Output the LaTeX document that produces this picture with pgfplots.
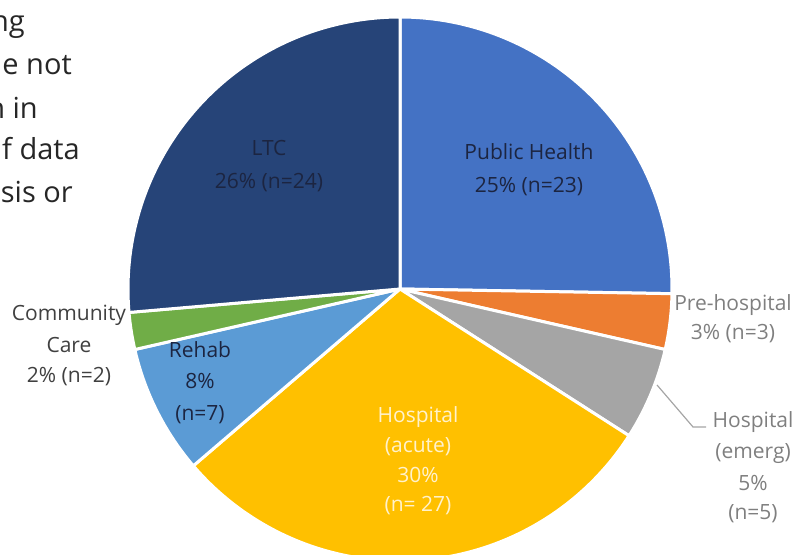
\documentclass[border=0pt]{standalone}
\usepackage{fontspec}
\setmainfont{Open Sans}
\usepackage{pgfplots}
\pgfplotsset{compat=1.18}
\definecolor{cPH}{HTML}{4472C4}
\definecolor{cPre}{HTML}{ED7D31}
\definecolor{cEm}{HTML}{A5A5A5}
\definecolor{cAc}{HTML}{FFC000}
\definecolor{cRe}{HTML}{5B9BD5}
\definecolor{cCo}{HTML}{70AD47}
\definecolor{cLT}{HTML}{264478}
\definecolor{txtIn}{HTML}{1C2541}
\definecolor{txtOut}{HTML}{7F7F7F}
\definecolor{txtCo}{HTML}{404040}
\definecolor{txtAc}{HTML}{FFF2CC}
\definecolor{txtBody}{HTML}{262626}
\newcommand\labfont{\fontsize{21bp}{31bp}\selectfont}
\newcommand\lab[4]{\node[anchor=base, text=#4, font=\labfont, inner sep=0pt] at (axis cs:#1,#2) {#3};}
% data: counts per category (clockwise from 12 o'clock)
\def\nPH{23}\def\nPre{3}\def\nEm{5}\def\nAc{27}\def\nRe{7}\def\nCo{2}\def\nLT{24}
\begin{document}
\begin{tikzpicture}
\path[use as bounding box] (0,0) rectangle (798bp,555bp);
\pgfmathsetmacro\tot{\nPH+\nPre+\nEm+\nAc+\nRe+\nCo+\nLT}
\pgfmathsetmacro\aA{90}
\pgfmathsetmacro\aB{\aA-\nPH*360/\tot}
\pgfmathsetmacro\aC{\aB-\nPre*360/\tot}
\pgfmathsetmacro\aD{\aC-\nEm*360/\tot}
\pgfmathsetmacro\aE{\aD-\nAc*360/\tot}
\pgfmathsetmacro\aF{\aE-\nRe*360/\tot}
\pgfmathsetmacro\aG{\aF-\nCo*360/\tot}
\pgfmathsetmacro\aH{\aG-\nLT*360/\tot}
\begin{axis}[
  at={(0,0)}, anchor=south west,
  width=798bp, height=555bp, scale only axis,
  xmin=0, xmax=798, ymin=0, ymax=555, y dir=reverse,
  hide axis, clip=true,
]
\pgfplotsset{wedge/.style={draw=white, line width=3bp, samples=120, variable=\t, line join=round}}
\addplot[wedge, fill=cPH, domain=\aB:\aA] ({400+272*cos(\t)}, {289-272*sin(\t)}) -- (axis cs:400,289) -- cycle;
\addplot[wedge, fill=cPre, domain=\aC:\aB] ({400+272*cos(\t)}, {289-272*sin(\t)}) -- (axis cs:400,289) -- cycle;
\addplot[wedge, fill=cEm, domain=\aD:\aC] ({400+272*cos(\t)}, {289-272*sin(\t)}) -- (axis cs:400,289) -- cycle;
\addplot[wedge, fill=cAc, domain=\aE:\aD] ({400+272*cos(\t)}, {289-272*sin(\t)}) -- (axis cs:400,289) -- cycle;
\addplot[wedge, fill=cRe, domain=\aF:\aE] ({400+272*cos(\t)}, {289-272*sin(\t)}) -- (axis cs:400,289) -- cycle;
\addplot[wedge, fill=cCo, domain=\aG:\aF] ({400+272*cos(\t)}, {289-272*sin(\t)}) -- (axis cs:400,289) -- cycle;
\addplot[wedge, fill=cLT, domain=\aH:\aG] ({400+272*cos(\t)}, {289-272*sin(\t)}) -- (axis cs:400,289) -- cycle;
% leader line for Hospital (emerg)
\addplot[color=cEm, line width=1.2bp] coordinates {(657,385) (693,427) (706,427)};
% labels
\lab{269}{155}{LTC}{txtIn}
\lab{269}{188}{26\% (n=24)}{txtIn}
\lab{529}{159}{Public Health}{txtIn}
\lab{529}{192}{25\% (n=23)}{txtIn}
\lab{733}{310}{Pre-hospital}{txtOut}
\lab{733}{339}{3\% (n=3)}{txtOut}
\lab{753}{427}{Hospital}{txtOut}
\lab{753}{458}{(emerg)}{txtOut}
\lab{753}{490}{5\%}{txtOut}
\lab{753}{519}{(n=5)}{txtOut}
\lab{418}{422}{Hospital}{txtAc}
\lab{418}{452}{(acute)}{txtAc}
\lab{418}{482}{30\%}{txtAc}
\lab{418}{511}{(n= 27)}{txtAc}
\lab{200}{357}{Rehab}{txtIn}
\lab{200}{388}{8\%}{txtIn}
\lab{200}{420}{(n=7)}{txtIn}
\lab{69}{320}{Community}{txtCo}
\lab{69}{352}{Care}{txtCo}
\lab{69}{382}{2\% (n=2)}{txtCo}
% cropped slide text, top left
\begin{scope}[every node/.style={anchor=base east, inner sep=0pt, text=txtBody, font=\fontsize{29bp}{40bp}\selectfont}]
\node at (axis cs:25,32) {ng};
\node at (axis cs:72,75) {e not};
\node at (axis cs:38,118) {n in};
\node at (axis cs:80,159) {f data};
\node at (axis cs:73,202) {sis or};
\end{scope}
\end{axis}
\end{tikzpicture}
\end{document}
